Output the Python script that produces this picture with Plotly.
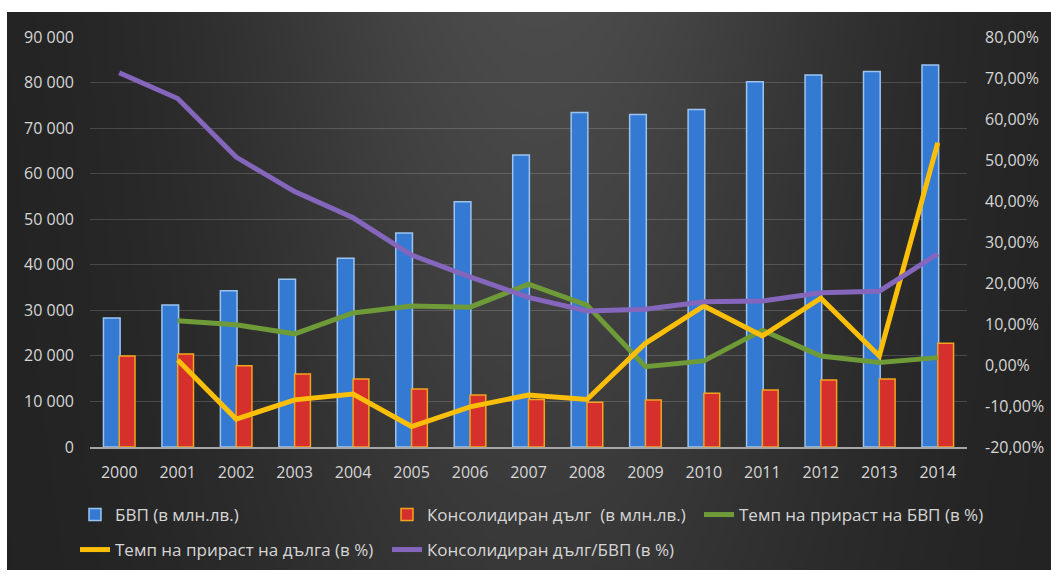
import base64
import math
import struct
import zlib

import plotly.graph_objects as go

# ---- data -------------------------------------------------------------
years = [2000, 2001, 2002, 2003, 2004, 2005, 2006, 2007,
         2008, 2009, 2010, 2011, 2012, 2013, 2014]
year_labels = [str(y) for y in years]

# GDP and consolidated debt, million BGN (left axis)
gdp = [28300, 31170, 34300, 36800, 41450, 47000, 53850, 64100,
       73400, 73000, 74100, 80200, 81650, 82400, 83850]
debt = [19980, 20400, 17850, 16000, 14900, 12730, 11400, 10400,
        9800, 10300, 11800, 12500, 14700, 14900, 22760]

# growth rates and debt ratio, % (right axis); growth starts in 2001
growth_years = years[1:]
gdp_growth = [10.8, 9.8, 7.6, 12.7, 14.4, 14.1, 19.7, 14.6,
              -0.4, 1.0, 8.5, 2.2, 0.6, 1.8]
debt_growth = [1.2, -13.2, -8.5, -7.1, -15.0, -10.2, -7.3, -8.4,
               5.3, 14.4, 7.1, 16.3, 2.2, 54.2]
debt_to_gdp = [71.3, 65.0, 50.7, 42.3, 35.9, 26.8, 21.5, 16.5,
               13.2, 13.6, 15.4, 15.6, 17.6, 18.0, 27.1]

left_ticks = list(range(0, 90001, 10000))
right_ticks = list(range(-20, 81, 10))
right_labels = [f"{v:.2f}%".replace(".", ",") for v in right_ticks]

# ---- page geometry (pixels) -------------------------------------------
W, H = 1051, 574
PL, PR, PT, PB = 90, 84, 37, 127          # plot-area margins
PW, PH = W - PL - PR, H - PT - PB
BG_X0, BG_Y0, BG_X1, BG_Y1 = 7, 12, 1051, 570  # dark chart panel


def px_to_paper_x(px):
    return (px - PL) / PW


def px_to_paper_y(py):
    return (H - PB - py) / PH


# ---- dark radial-ish backdrop as a small grayscale PNG -----------------
def backdrop_uri(w, h):
    rows = []
    for j in range(h):
        py = BG_Y0 + (BG_Y1 - BG_Y0) * j / (h - 1)
        row = bytearray([0])
        for i in range(w):
            px = BG_X0 + (BG_X1 - BG_X0) * i / (w - 1)
            glow = math.exp(-((px - 540) / 320) ** 2) * (1 - 0.45 * (py - BG_Y0) / (BG_Y1 - BG_Y0))
            v = 33 + 42 * glow
            row.append(max(0, min(255, int(round(v)))))
        rows.append(bytes(row))
    raw = b"".join(rows)

    def chunk(tag, data):
        return (struct.pack(">I", len(data)) + tag + data
                + struct.pack(">I", zlib.crc32(tag + data) & 0xFFFFFFFF))

    png = (b"\x89PNG\r\n\x1a\n"
           + chunk(b"IHDR", struct.pack(">IIBBBBB", w, h, 8, 0, 0, 0, 0))
           + chunk(b"IDAT", zlib.compress(raw, 9))
           + chunk(b"IEND", b""))
    return "data:image/png;base64," + base64.b64encode(png).decode()


TEXT = "#d6d6d6"
FONT = "Open Sans"

fig = go.Figure()

fig.add_trace(go.Bar(
    x=years, y=gdp, name="БВП (в млн.лв.)",
    offset=-0.27, width=0.285,
    marker=dict(color="#3479d2", line=dict(color="#9cc4f0", width=1.5)),
    legend="legend",
))
fig.add_trace(go.Bar(
    x=years, y=debt, name="Консолидиран дълг  (в млн.лв.)",
    offset=0.0, width=0.27,
    marker=dict(color="#d5302c", line=dict(color="#f3a41e", width=1.5)),
    legend="legend",
))
fig.add_trace(go.Scatter(
    x=growth_years, y=gdp_growth, name="Темп на прираст на БВП (в %)",
    yaxis="y2", mode="lines", line=dict(color="#6f9a38", width=5),
    legend="legend",
))
fig.add_trace(go.Scatter(
    x=growth_years, y=debt_growth, name="Темп на прираст на дълга (в %)",
    yaxis="y2", mode="lines", line=dict(color="#fbbf0a", width=5),
    legend="legend2",
))
fig.add_trace(go.Scatter(
    x=years, y=debt_to_gdp, name="Консолидиран дълг/БВП (в %)",
    yaxis="y2", mode="lines", line=dict(color="#8466bd", width=5),
    legend="legend2",
))

legend_common = dict(
    orientation="h", xanchor="left", yanchor="middle",
    x=px_to_paper_x(75), entrywidth=267, entrywidthmode="pixels",
    font=dict(family=FONT, size=17, color=TEXT),
    bgcolor="rgba(0,0,0,0)", itemclick=False, itemdoubleclick=False,
)

fig.update_layout(
    width=W, height=H,
    margin=dict(l=PL, r=PR, t=PT, b=PB, autoexpand=False),
    paper_bgcolor="#ffffff",
    plot_bgcolor="rgba(0,0,0,0)",
    separators=", ",
    barmode="overlay",
    font=dict(family=FONT, size=16, color=TEXT),
    showlegend=True,
    legend=dict(y=px_to_paper_y(515), **legend_common),
    legend2=dict(y=px_to_paper_y(550), **legend_common),
    xaxis=dict(
        range=[1999.5, 2014.5], tickvals=years, ticktext=year_labels,
        showgrid=False, zeroline=False, showline=True,
        linecolor="#a6a6a6", linewidth=1.5, ticks="",
        ticklabelstandoff=10, automargin=False,
        tickfont=dict(family=FONT, size=16, color=TEXT),
    ),
    yaxis=dict(
        range=[0, 90000], tickvals=left_ticks, tickformat=",d",
        showgrid=True, gridcolor="rgba(255,255,255,0.16)", gridwidth=1,
        zeroline=False, ticks="", ticklabelstandoff=15, automargin=False,
        tickfont=dict(family=FONT, size=16, color=TEXT),
    ),
    yaxis2=dict(
        range=[-20, 80], tickvals=right_ticks, ticktext=right_labels,
        overlaying="y", side="right", automargin=False,
        showgrid=False, zeroline=False, ticks="", ticklabelstandoff=17,
        tickfont=dict(family=FONT, size=16, color=TEXT),
    ),
    images=[dict(
        source=backdrop_uri(348, 186),
        xref="paper", yref="paper",
        x=px_to_paper_x(BG_X0), y=px_to_paper_y(BG_Y0),
        sizex=(BG_X1 - BG_X0) / PW, sizey=(BG_Y1 - BG_Y0) / PH,
        xanchor="left", yanchor="top", sizing="stretch", layer="below",
    )],
)

fig.write_html("out.html")
